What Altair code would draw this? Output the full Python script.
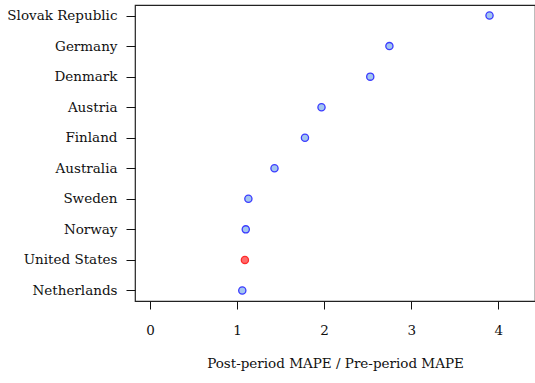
import altair as alt
import pandas as pd

# Countries, top to bottom, with their post/pre MAPE ratios
countries = ["Slovak Republic", "Germany", "Denmark", "Austria", "Finland",
             "Australia", "Sweden", "Norway", "United States", "Netherlands"]
ratios = [3.90, 2.75, 2.53, 1.97, 1.78, 1.43, 1.13, 1.10, 1.09, 1.06]
highlight = [False, False, False, False, False, False, False, False, True, False]

x_ticks = [0, 1, 2, 3, 4]

df = pd.DataFrame({"country": countries, "ratio": ratios, "highlight": highlight})

FONT = "DejaVu Serif"

points = alt.Chart(df).mark_point(
    filled=False, shape="circle", size=52, strokeWidth=1.3, opacity=1
).encode(
    x=alt.X("ratio:Q",
            scale=alt.Scale(domain=[-0.1724, 4.4224], nice=False, zero=False),
            axis=alt.Axis(values=x_ticks, format="d", title="Post-period MAPE / Pre-period MAPE",
                          grid=False, domain=False, tickColor="#111", tickSize=8,
                          labelPadding=14, labelFontSize=13.5, labelFont=FONT,
                          labelColor="#111", titleFont=FONT, titleFontSize=13.5,
                          titleFontWeight="normal", titleColor="#111", titlePadding=20)),
    y=alt.Y("country:N", sort=countries,
            scale=alt.Scale(type="point", padding=0.345),
            axis=alt.Axis(title=None, grid=False, domain=False, tickColor="#111",
                          tickSize=9, labelPadding=9, labelFontSize=13.5,
                          labelFont=FONT, labelColor="#111")),
    fill=alt.Fill("highlight:N",
                  scale=alt.Scale(domain=[False, True], range=["#a3c6ef", "#ff6b6b"]),
                  legend=None),
    stroke=alt.Stroke("highlight:N",
                      scale=alt.Scale(domain=[False, True], range=["#3b3bff", "#ff2b2b"]),
                      legend=None),
)

chart = points.properties(
    width=400, height=296,
    autosize=alt.AutoSizeParams(type="none"),
    padding={"left": 135, "top": 5, "right": 0, "bottom": 82},
    background="white",
).configure_view(
    stroke="#222", strokeWidth=1.2
)

chart.save("out.html", embed_options={"renderer": "svg", "actions": False})
